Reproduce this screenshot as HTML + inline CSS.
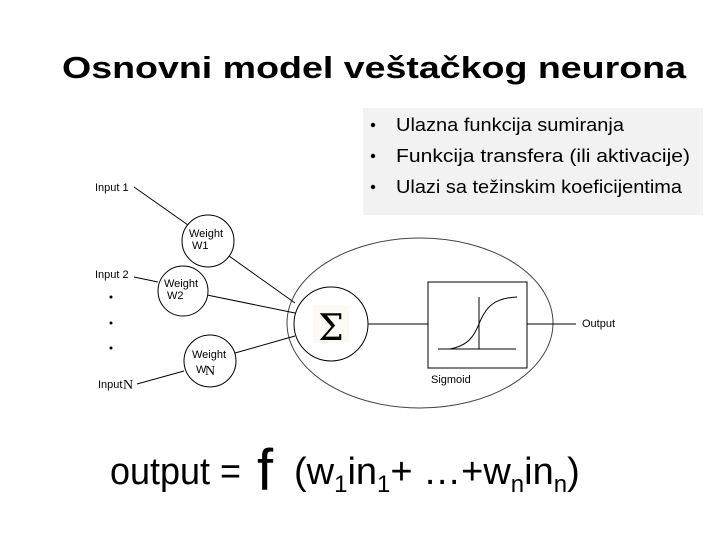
<!DOCTYPE html>
<html><head><meta charset="utf-8"><style>body{margin:0;background:#fff}svg{display:block}</style></head>
<body>
<svg width="720" height="540" xmlns="http://www.w3.org/2000/svg" font-family="Liberation Sans, Arial, sans-serif">
<text x="62" y="78" font-size="31" font-weight="bold" textLength="624" lengthAdjust="spacingAndGlyphs">Osnovni model veštačkog neurona</text>
<rect x="363" y="108" width="340" height="107" fill="#f2f2f2"/>
<g font-size="18" fill="#000">
<circle cx="373" cy="125" r="2.2"/><text x="396" y="131" textLength="228" lengthAdjust="spacingAndGlyphs">Ulazna funkcija sumiranja</text>
<circle cx="373" cy="156" r="2.2"/><text x="396" y="162" textLength="294" lengthAdjust="spacingAndGlyphs">Funkcija transfera (ili aktivacije)</text>
<circle cx="373" cy="187" r="2.2"/><text x="396" y="193" textLength="286" lengthAdjust="spacingAndGlyphs">Ulazi sa težinskim koeficijentima</text>
</g>
<g stroke="#000" stroke-width="1" fill="none">
<ellipse cx="420" cy="323" rx="133" ry="85" stroke="#444"/>
<line x1="134" y1="187" x2="188" y2="225"/>
<line x1="229" y1="256" x2="295" y2="303"/>
<line x1="134" y1="277" x2="158" y2="282"/>
<line x1="207" y1="295" x2="295" y2="313"/>
<line x1="137" y1="384" x2="184" y2="371"/>
<line x1="235" y1="353" x2="295" y2="336"/>
<circle cx="208" cy="241" r="26" fill="#fff"/>
<circle cx="183" cy="291" r="25" fill="#fff"/>
<circle cx="210" cy="361" r="26" fill="#fff"/>
<circle cx="331" cy="324" r="37" fill="#fff"/>
<line x1="368" y1="324" x2="428" y2="324"/>
<rect x="428" y="282" width="99" height="86" fill="#fff"/>
<line x1="527" y1="324" x2="576" y2="324"/>
<line x1="438" y1="349" x2="516" y2="349"/>
<line x1="479" y1="297" x2="479" y2="349"/>
<path d="M450 349 C 470 345,474 335,479 324 C 486 306,495 298,517 297"/>
</g>
<rect x="313" y="305" width="36" height="38" fill="#fcfaf2"/>
<text x="331" y="340" text-anchor="middle" font-family="DejaVu Serif, serif" font-size="36">Σ</text>
<g font-size="11" fill="#000">
<text x="95" y="191">Input 1</text>
<text x="95" y="278">Input 2</text>
<text x="98" y="388">Input</text><text x="123" y="389" font-family="Liberation Serif, serif" font-size="14">N</text>
<text x="189" y="237">Weight</text><text x="192" y="249">W1</text>
<text x="164" y="287">Weight</text><text x="167" y="299">W2</text>
<text x="192" y="358">Weight</text><text x="196" y="373">W</text><text x="205" y="375" font-family="Liberation Serif, serif" font-size="14">N</text>
<text x="582" y="327">Output</text>
<text x="431" y="383">Sigmoid</text>
</g>
<circle cx="111" cy="297" r="1.5"/><circle cx="111" cy="323" r="1.5"/><circle cx="111" cy="348" r="1.5"/>
<text x="110" y="484" font-size="38" textLength="131" lengthAdjust="spacingAndGlyphs">output =</text>
<text x="257" y="490" font-size="58">f</text>
<text x="294" y="484" font-size="38">(w<tspan font-size="24" dy="8">1</tspan><tspan dy="-8">in</tspan><tspan font-size="24" dy="8">1</tspan><tspan dy="-8">+ …+w</tspan><tspan font-size="24" dy="8">n</tspan><tspan dy="-8">in</tspan><tspan font-size="24" dy="8">n</tspan><tspan dy="-8">)</tspan></text>
</svg>
</body></html>
